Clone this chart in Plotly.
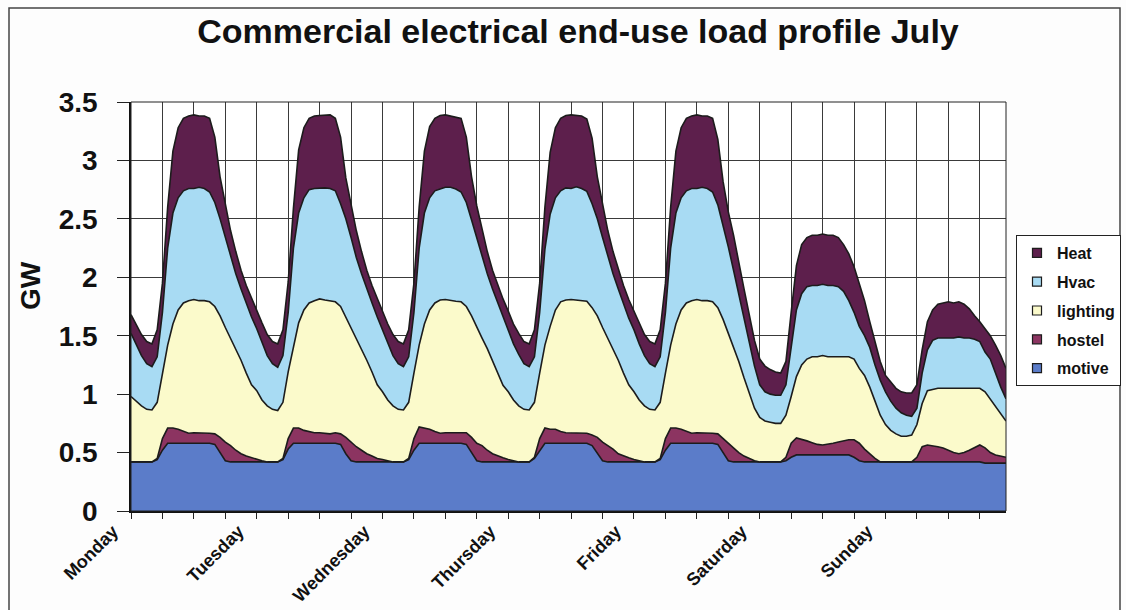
import plotly.graph_objects as go

# Hourly commercial electrical end-use load (GW), Monday 00:00 to Sunday 23:00
days = ["Monday", "Tuesday", "Wednesday", "Thursday", "Friday", "Saturday", "Sunday"]
hours = list(range(168))

motive = [
    0.42, 0.42, 0.42, 0.42, 0.42, 0.44, 0.52, 0.58, 0.58, 0.58, 0.58, 0.58, 0.58, 0.58, 0.58, 0.58, 0.57, 0.50, 0.43, 0.42, 0.42, 0.42, 0.42, 0.42,
    0.42, 0.42, 0.42, 0.42, 0.42, 0.44, 0.53, 0.58, 0.58, 0.58, 0.58, 0.58, 0.58, 0.58, 0.58, 0.58, 0.57, 0.49, 0.43, 0.42, 0.42, 0.42, 0.42, 0.42,
    0.42, 0.42, 0.42, 0.42, 0.42, 0.44, 0.52, 0.58, 0.58, 0.58, 0.58, 0.58, 0.58, 0.58, 0.58, 0.58, 0.57, 0.50, 0.43, 0.42, 0.42, 0.42, 0.42, 0.42,
    0.42, 0.42, 0.42, 0.42, 0.42, 0.45, 0.52, 0.58, 0.58, 0.58, 0.58, 0.58, 0.58, 0.58, 0.58, 0.58, 0.56, 0.50, 0.43, 0.42, 0.42, 0.42, 0.42, 0.42,
    0.42, 0.42, 0.42, 0.42, 0.42, 0.44, 0.52, 0.58, 0.58, 0.58, 0.58, 0.58, 0.58, 0.58, 0.58, 0.58, 0.57, 0.50, 0.43, 0.42, 0.42, 0.42, 0.42, 0.42,
    0.42, 0.42, 0.42, 0.42, 0.42, 0.43, 0.46, 0.48, 0.48, 0.48, 0.48, 0.48, 0.48, 0.48, 0.48, 0.48, 0.48, 0.48, 0.46, 0.43, 0.42, 0.42, 0.42, 0.42,
    0.42, 0.42, 0.42, 0.42, 0.42, 0.42, 0.42, 0.42, 0.42, 0.42, 0.42, 0.42, 0.42, 0.42, 0.42, 0.42, 0.42, 0.42, 0.42, 0.41, 0.41, 0.41, 0.41, 0.41,
]

hostel = [
    0.00, 0.00, 0.00, 0.00, 0.00, 0.01, 0.10, 0.13, 0.13, 0.12, 0.10, 0.085, 0.09, 0.09, 0.085, 0.085, 0.09, 0.13, 0.16, 0.14, 0.10, 0.07, 0.05, 0.035,
    0.02, 0.01, 0.00, 0.00, 0.00, 0.01, 0.09, 0.13, 0.13, 0.11, 0.10, 0.09, 0.09, 0.085, 0.08, 0.09, 0.09, 0.14, 0.16, 0.13, 0.10, 0.07, 0.05, 0.03,
    0.02, 0.01, 0.00, 0.00, 0.00, 0.01, 0.10, 0.14, 0.13, 0.12, 0.10, 0.085, 0.09, 0.09, 0.085, 0.085, 0.10, 0.13, 0.15, 0.14, 0.10, 0.07, 0.05, 0.035,
    0.02, 0.01, 0.00, 0.00, 0.00, 0.01, 0.10, 0.13, 0.12, 0.12, 0.10, 0.09, 0.09, 0.09, 0.085, 0.085, 0.09, 0.13, 0.16, 0.14, 0.11, 0.07, 0.05, 0.035,
    0.02, 0.01, 0.00, 0.00, 0.00, 0.01, 0.10, 0.13, 0.13, 0.12, 0.10, 0.085, 0.09, 0.09, 0.085, 0.085, 0.09, 0.12, 0.15, 0.12, 0.08, 0.05, 0.03, 0.01,
    0.00, 0.00, 0.00, 0.00, 0.00, 0.03, 0.12, 0.145, 0.135, 0.12, 0.105, 0.09, 0.085, 0.09, 0.10, 0.11, 0.12, 0.13, 0.15, 0.15, 0.11, 0.07, 0.03, 0.00,
    0.00, 0.00, 0.00, 0.00, 0.00, 0.00, 0.04, 0.13, 0.145, 0.14, 0.13, 0.12, 0.10, 0.08, 0.07, 0.08, 0.10, 0.12, 0.145, 0.13, 0.09, 0.07, 0.06, 0.05,
]

lighting = [
    0.56, 0.52, 0.48, 0.45, 0.445, 0.48, 0.56, 0.71, 0.89, 1.02, 1.10, 1.135, 1.14, 1.13, 1.135, 1.125, 1.09, 1.04, 0.98, 0.92, 0.87, 0.80, 0.71, 0.625,
    0.59, 0.52, 0.48, 0.45, 0.44, 0.48, 0.57, 0.70, 0.90, 1.03, 1.10, 1.13, 1.145, 1.14, 1.14, 1.12, 1.09, 1.03, 0.98, 0.93, 0.86, 0.80, 0.72, 0.63,
    0.58, 0.52, 0.48, 0.45, 0.445, 0.48, 0.56, 0.70, 0.89, 1.02, 1.10, 1.14, 1.14, 1.13, 1.13, 1.125, 1.08, 1.04, 0.99, 0.92, 0.87, 0.79, 0.71, 0.62,
    0.58, 0.52, 0.48, 0.45, 0.445, 0.47, 0.56, 0.71, 0.88, 1.02, 1.11, 1.135, 1.14, 1.135, 1.135, 1.13, 1.09, 1.04, 0.98, 0.92, 0.86, 0.80, 0.71, 0.625,
    0.58, 0.52, 0.48, 0.45, 0.445, 0.48, 0.56, 0.71, 0.89, 1.02, 1.10, 1.135, 1.14, 1.13, 1.135, 1.125, 1.08, 1.02, 0.94, 0.86, 0.78, 0.67, 0.55, 0.45,
    0.38, 0.35, 0.34, 0.33, 0.33, 0.36, 0.40, 0.525, 0.635, 0.70, 0.735, 0.75, 0.765, 0.75, 0.74, 0.73, 0.72, 0.71, 0.69, 0.64, 0.63, 0.57, 0.49, 0.40,
    0.32, 0.27, 0.24, 0.22, 0.22, 0.23, 0.28, 0.37, 0.465, 0.48, 0.50, 0.51, 0.53, 0.55, 0.56, 0.55, 0.53, 0.51, 0.485, 0.48, 0.46, 0.41, 0.36, 0.31,
]

hvac = [
    0.54, 0.48, 0.43, 0.39, 0.37, 0.39, 0.52, 0.83, 0.95, 0.96, 0.96, 0.96, 0.95, 0.97, 0.96, 0.94, 0.89, 0.83, 0.77, 0.70, 0.64, 0.61, 0.60, 0.58,
    0.53, 0.49, 0.43, 0.39, 0.37, 0.40, 0.51, 0.84, 0.94, 0.96, 0.97, 0.96, 0.95, 0.96, 0.96, 0.95, 0.88, 0.84, 0.77, 0.69, 0.65, 0.61, 0.59, 0.58,
    0.53, 0.48, 0.43, 0.39, 0.37, 0.39, 0.52, 0.83, 0.95, 0.96, 0.96, 0.95, 0.96, 0.97, 0.96, 0.94, 0.89, 0.82, 0.76, 0.70, 0.64, 0.62, 0.60, 0.58,
    0.53, 0.48, 0.44, 0.39, 0.37, 0.39, 0.52, 0.82, 0.96, 0.96, 0.95, 0.96, 0.95, 0.97, 0.96, 0.94, 0.89, 0.83, 0.77, 0.70, 0.64, 0.61, 0.60, 0.57,
    0.53, 0.48, 0.43, 0.39, 0.37, 0.39, 0.52, 0.83, 0.95, 0.96, 0.96, 0.96, 0.95, 0.97, 0.96, 0.94, 0.88, 0.81, 0.74, 0.66, 0.58, 0.52, 0.45, 0.36,
    0.28, 0.25, 0.24, 0.24, 0.24, 0.26, 0.42, 0.57, 0.61, 0.62, 0.61, 0.61, 0.61, 0.61, 0.61, 0.60, 0.56, 0.48, 0.40, 0.36, 0.34, 0.34, 0.31, 0.30,
    0.28, 0.25, 0.22, 0.20, 0.18, 0.16, 0.14, 0.26, 0.35, 0.42, 0.43, 0.43, 0.43, 0.43, 0.44, 0.43, 0.43, 0.42, 0.40, 0.34, 0.34, 0.29, 0.23, 0.19,
]

heat = [
    0.16, 0.17, 0.18, 0.19, 0.195, 0.23, 0.25, 0.35, 0.53, 0.60, 0.62, 0.62, 0.63, 0.61, 0.62, 0.63, 0.56, 0.36, 0.28, 0.22, 0.19, 0.16, 0.15, 0.16,
    0.16, 0.17, 0.18, 0.19, 0.20, 0.22, 0.26, 0.34, 0.54, 0.60, 0.61, 0.62, 0.62, 0.62, 0.63, 0.62, 0.57, 0.35, 0.28, 0.23, 0.19, 0.16, 0.15, 0.16,
    0.16, 0.17, 0.18, 0.19, 0.195, 0.23, 0.25, 0.35, 0.53, 0.61, 0.62, 0.63, 0.62, 0.61, 0.62, 0.63, 0.56, 0.37, 0.28, 0.22, 0.19, 0.16, 0.15, 0.16,
    0.16, 0.17, 0.18, 0.19, 0.195, 0.23, 0.25, 0.36, 0.53, 0.60, 0.62, 0.62, 0.63, 0.61, 0.62, 0.62, 0.56, 0.36, 0.28, 0.22, 0.19, 0.17, 0.15, 0.16,
    0.16, 0.17, 0.18, 0.19, 0.195, 0.23, 0.25, 0.35, 0.53, 0.60, 0.62, 0.62, 0.63, 0.61, 0.62, 0.63, 0.56, 0.37, 0.30, 0.30, 0.26, 0.24, 0.23, 0.22,
    0.22, 0.22, 0.21, 0.20, 0.19, 0.20, 0.30, 0.38, 0.42, 0.42, 0.43, 0.43, 0.43, 0.43, 0.43, 0.42, 0.40, 0.40, 0.39, 0.37, 0.30, 0.22, 0.20, 0.16,
    0.14, 0.16, 0.17, 0.18, 0.19, 0.20, 0.20, 0.20, 0.24, 0.26, 0.29, 0.30, 0.31, 0.30, 0.30, 0.29, 0.25, 0.20, 0.17, 0.20, 0.20, 0.24, 0.27, 0.26,
]

series = [
    ("motive", motive, "#5b7cc9"),
    ("hostel", hostel, "#8c3461"),
    ("lighting", lighting, "#fbfacb"),
    ("Hvac", hvac, "#a8dbf3"),
    ("Heat", heat, "#5d1f4c"),
]

FONT = "Liberation Sans, Arial, sans-serif"
EDGE = "#1c1c1c"
W, H = 1126, 610
ML, MR, MT, MB = 131, 120, 102, 99

fig = go.Figure()

# Stacked areas, bottom layer first
for name, vals, color in series:
    fig.add_trace(go.Scatter(
        x=hours, y=vals, name=name, stackgroup="load", mode="lines",
        line=dict(color=EDGE, width=1.6), fillcolor=color,
        showlegend=False, hoverinfo="x+y+name",
    ))

# Legend entries as square swatches, top layer listed first
for name, vals, color in reversed(series):
    fig.add_trace(go.Scatter(
        x=[None], y=[None], name=name, mode="markers", legendgroup=name,
        marker=dict(symbol="square", size=9, color=color, line=dict(color=EDGE, width=1.2)),
    ))

pw = W - ML - MR
ph = H - MT - MB

def px(x):
    return (x - ML) / pw

def py(y):
    return (H - MB - y) / ph

fig.update_layout(
    width=W, height=H,
    margin=dict(l=ML, r=MR, t=MT, b=MB),
    paper_bgcolor="#fdfdfd",
    plot_bgcolor="#ffffff",
    font=dict(family=FONT, color="#111111", weight="bold"),
    title=dict(
        text="Commercial electrical end-use load profile July",
        x=578 / W, xanchor="center", xref="container",
        y=1 - 31 / H, yanchor="middle", yref="container",
        font=dict(size=34, family=FONT, weight="bold", color="#111111"),
    ),
    showlegend=True,
    legend=dict(
        x=1016 / W, xref="container", xanchor="left",
        y=1 - 235 / H, yref="container", yanchor="top",
        bgcolor="#ffffff", bordercolor="#222222", borderwidth=1,
        font=dict(size=16, family=FONT, weight="bold"),
        traceorder="grouped", tracegroupgap=5,
        itemclick=False, itemdoubleclick=False,
    ),
    xaxis=dict(
        range=[0, 167],
        tickvals=[24 * i for i in range(7)],
        ticktext=days,
        tickangle=-45,
        tickfont=dict(size=18, family=FONT, weight="bold"),
        ticks="outside", ticklen=6, tickcolor="#222222",
        ticklabelshift=-18, ticklabelstandoff=-5,
        showline=True, linecolor="#111111", linewidth=1.5,
        showgrid=True, gridcolor="#3a3a3a", gridwidth=1,
        minor=dict(dtick=6, tick0=0, ticks="outside", ticklen=6, tickcolor="#222222",
                   showgrid=True, gridcolor="#3a3a3a", gridwidth=1),
        zeroline=False, automargin=False,
    ),
    yaxis=dict(
        range=[0, 3.5], dtick=0.5,
        tickfont=dict(size=28, family=FONT, weight="bold"),
        ticks="outside", ticklen=12, tickcolor="#222222",
        ticklabelstandoff=14,
        showline=True, linecolor="#111111", linewidth=1.5,
        showgrid=True, gridcolor="#3a3a3a", gridwidth=1,
        zeroline=False, automargin=False,
    ),
    annotations=[
        dict(text="GW", textangle=-90, showarrow=False,
             xref="paper", yref="paper", x=px(30), y=py(286),
             xanchor="center", yanchor="middle",
             font=dict(size=28, family=FONT, weight="bold", color="#111111")),
    ],
    shapes=[
        # chart frame
        dict(type="rect", xref="paper", yref="paper",
             x0=px(9), x1=px(1120), y0=py(625), y1=py(8),
             line=dict(color="#444444", width=1.5), fillcolor="rgba(0,0,0,0)", layer="below"),
        # plot border
        dict(type="rect", xref="paper", yref="paper", x0=0, x1=1, y0=0, y1=1,
             line=dict(color="#222222", width=1), layer="above"),
    ],
)

fig.write_html("out.html")
